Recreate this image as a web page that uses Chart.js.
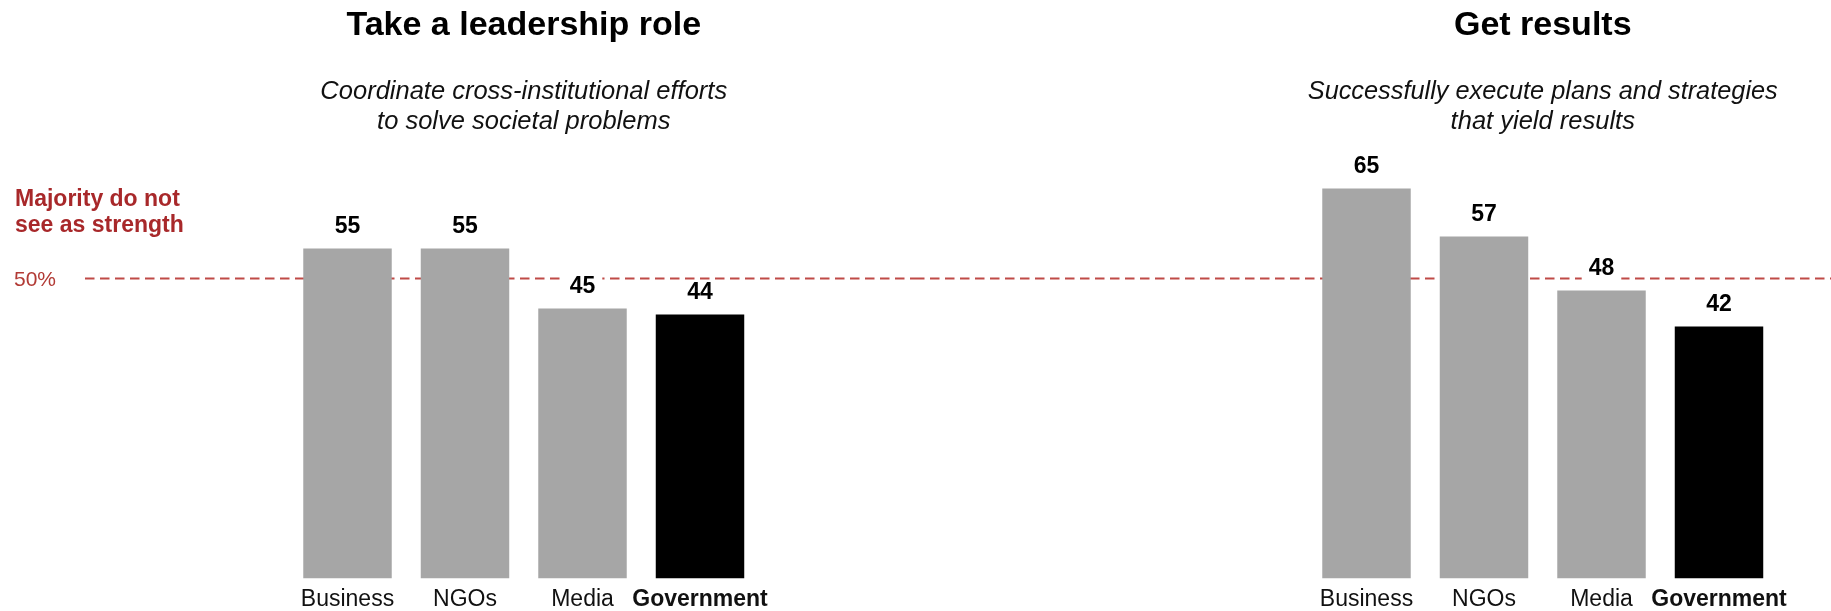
<!DOCTYPE html>
<html>
<head>
<meta charset="utf-8">
<script src="https://cdn.jsdelivr.net/npm/chart.js@4/dist/chart.umd.min.js"></script>
<style>
    html, body { margin: 0; padding: 0; background: #ffffff; }
    #wrap { position: relative; width: 1831px; height: 611px; overflow: hidden; }
    #wrap canvas { position: absolute; top: 0; }
</style>
</head>
<body>
<div id="wrap">
    <canvas id="chart-left" width="915" height="611" style="left:0"></canvas>
    <canvas id="chart-right" width="916" height="611" style="left:915px"></canvas>
</div>
<script>
// Chart data
const categories = ["Business", "NGOs", "Media", "Government"];
const leadershipValues = [55, 55, 45, 44];
const resultsValues = [65, 57, 48, 42];
const barColors = ["#a6a6a6", "#a6a6a6", "#a6a6a6", "#000000"];
const thresholdValue = 50;
const thresholdLabel = "50%";
const noteLines = ["Majority do not", "see as strength"];

const leftTitle = "Take a leadership role";
const leftSubtitle = ["Coordinate cross-institutional efforts", "to solve societal problems"];
const rightTitle = "Get results";
const rightSubtitle = ["Successfully execute plans and strategies", "that yield results"];

const FONT = "'Liberation Sans', Arial, Helvetica, sans-serif";
const RED_LINE = "#bf4a47";
const RED_TEXT = "#a8282a";

// dashed 50% line behind the bars, plus the note on the left panel
const thresholdPlugin = {
    id: "threshold",
    beforeDatasetsDraw(chart, args, opts) {
        const ctx = chart.ctx;
        const y = chart.scales.y.getPixelForValue(thresholdValue);
        ctx.save();
        ctx.strokeStyle = RED_LINE;
        ctx.lineWidth = 2;
        ctx.setLineDash([9.5, 5.5]);
        ctx.beginPath();
        ctx.moveTo(opts.lineStart, y);
        ctx.lineTo(chart.width, y);
        ctx.stroke();
        ctx.restore();

        if (opts.showNote) {
            ctx.save();
            ctx.textAlign = "left";
            ctx.textBaseline = "middle";
            ctx.fillStyle = RED_TEXT;
            ctx.font = "bold 23px " + FONT;
            ctx.fillText(noteLines[0], 15, y - 79);
            ctx.fillText(noteLines[1], 15, y - 53);
            ctx.fillStyle = "#b23a35";
            ctx.font = "21px " + FONT;
            ctx.fillText(thresholdLabel, 14, y + 2);
            ctx.restore();
        }
    }
};

// value labels above bars, with a white box that hides the dashed line
const valueLabelPlugin = {
    id: "valueLabels",
    afterDatasetsDraw(chart) {
        const ctx = chart.ctx;
        const meta = chart.getDatasetMeta(0);
        const data = chart.data.datasets[0].data;
        ctx.save();
        ctx.font = "bold 23px " + FONT;
        ctx.textAlign = "center";
        ctx.textBaseline = "middle";
        meta.data.forEach((bar, i) => {
            const text = String(data[i]);
            const ty = bar.y - 22;
            const w = ctx.measureText(text).width;
            ctx.fillStyle = "#ffffff";
            ctx.fillRect(bar.x - w / 2 - 7, ty - 12, w + 14, 26);
            ctx.fillStyle = "#000000";
            ctx.fillText(text, bar.x, ty);
        });
        ctx.restore();
    }
};

function makeChart(canvasId, values, title, subtitle, pad, lineStart, showNote) {
    const ctx = document.getElementById(canvasId).getContext("2d");
    return new Chart(ctx, {
        type: "bar",
        data: {
            labels: categories,
            datasets: [{
                data: values,
                backgroundColor: barColors,
                borderWidth: 0,
                categoryPercentage: 1,
                barPercentage: 0.753
            }]
        },
        options: {
            responsive: false,
            animation: false,
            layout: { padding: { left: pad.left, right: pad.right, top: 0, bottom: 0 } },
            scales: {
                x: {
                    grid: { display: false, drawTicks: false },
                    border: { display: false },
                    ticks: {
                        padding: 7,
                        autoSkip: false,
                        maxRotation: 0,
                        minRotation: 0,
                        color: "#111111",
                        font: function(c) {
                            return {
                                family: FONT,
                                size: 23,
                                weight: c.index === 3 ? "bold" : "normal"
                            };
                        }
                    },
                    afterFit: function(scale) { scale.height = 32.5; }
                },
                y: {
                    display: false,
                    min: 0,
                    max: 72
                }
            },
            plugins: {
                legend: { display: false },
                tooltip: { enabled: false },
                title: {
                    display: true,
                    text: title,
                    color: "#000000",
                    font: { family: FONT, size: 34, weight: "bold", lineHeight: "40.8px" },
                    padding: { top: 5.5, bottom: 30.2 }
                },
                subtitle: {
                    display: true,
                    text: subtitle,
                    color: "#111111",
                    font: { family: FONT, size: 25.5, style: "italic", lineHeight: "30px" },
                    padding: { top: 0, bottom: 10 }
                },
                threshold: { lineStart: lineStart, showNote: showNote }
            }
        },
        plugins: [thresholdPlugin, valueLabelPlugin]
    });
}

makeChart("chart-left", leadershipValues, leftTitle, leftSubtitle,
    { left: 288.75, right: 156.25 }, 85, true);
makeChart("chart-right", resultsValues, rightTitle, rightSubtitle,
    { left: 392.75, right: 53.25 }, 0, false);
</script>
</body>
</html>
